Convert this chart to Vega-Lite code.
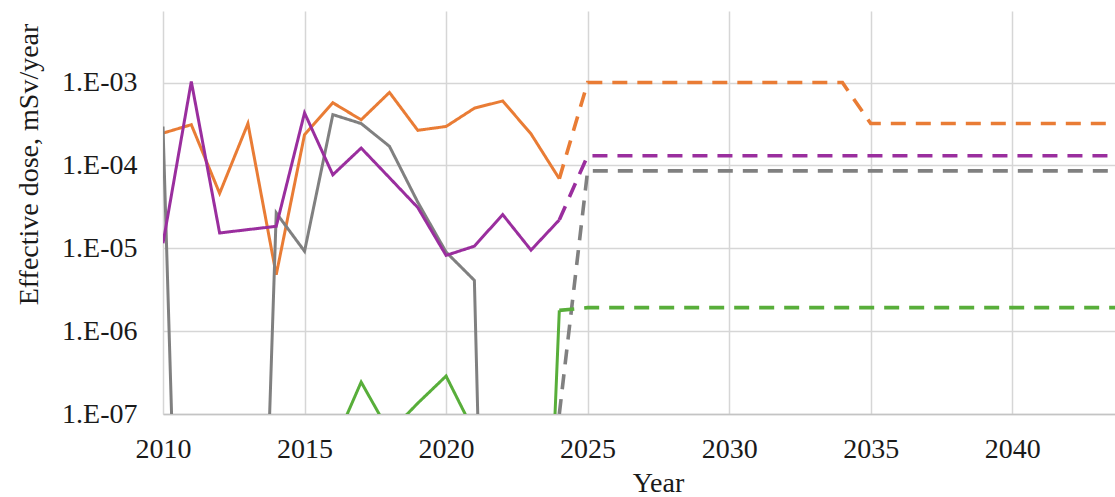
{
  "$schema": "https://vega.github.io/schema/vega-lite/v6.json",
  "width": 952,
  "height": 403,
  "autosize": {"type": "none"},
  "padding": {"left": 163, "top": 11, "right": 0, "bottom": 83},
  "background": "white",
  "config": {
    "view": {"stroke": null},
    "font": "Liberation Serif"
  },
  "data": {
    "values": [
      {"series": "A", "kind": "measured", "year": 2010, "dose": 2.45e-4},
      {"series": "A", "kind": "measured", "year": 2011, "dose": 3.1e-4},
      {"series": "A", "kind": "measured", "year": 2012, "dose": 4.6e-5},
      {"series": "A", "kind": "measured", "year": 2013, "dose": 3.2e-4},
      {"series": "A", "kind": "measured", "year": 2014, "dose": 4.8e-6},
      {"series": "A", "kind": "measured", "year": 2015, "dose": 2.35e-4},
      {"series": "A", "kind": "measured", "year": 2016, "dose": 5.7e-4},
      {"series": "A", "kind": "measured", "year": 2017, "dose": 3.55e-4},
      {"series": "A", "kind": "measured", "year": 2018, "dose": 7.6e-4},
      {"series": "A", "kind": "measured", "year": 2019, "dose": 2.65e-4},
      {"series": "A", "kind": "measured", "year": 2020, "dose": 2.95e-4},
      {"series": "A", "kind": "measured", "year": 2021, "dose": 4.9e-4},
      {"series": "A", "kind": "measured", "year": 2022, "dose": 6.0e-4},
      {"series": "A", "kind": "measured", "year": 2023, "dose": 2.4e-4},
      {"series": "A", "kind": "measured", "year": 2024, "dose": 6.9e-5},

      {"series": "C", "kind": "measured", "year": 2010, "dose": 2.95e-4},
      {"series": "C", "kind": "measured", "year": 2011, "dose": 1e-15},
      {"series": "C", "kind": "measured", "year": 2012, "dose": 1e-15},
      {"series": "C", "kind": "measured", "year": 2013, "dose": 1e-15},
      {"series": "C", "kind": "measured", "year": 2014, "dose": 2.67e-5},
      {"series": "C", "kind": "measured", "year": 2015, "dose": 9.2e-6},
      {"series": "C", "kind": "measured", "year": 2016, "dose": 4.1e-4},
      {"series": "C", "kind": "measured", "year": 2017, "dose": 3.2e-4},
      {"series": "C", "kind": "measured", "year": 2018, "dose": 1.7e-4},
      {"series": "C", "kind": "measured", "year": 2019, "dose": 3.6e-5},
      {"series": "C", "kind": "measured", "year": 2020, "dose": 9.0e-6},
      {"series": "C", "kind": "measured", "year": 2021, "dose": 4.1e-6},
      {"series": "C", "kind": "measured", "year": 2022, "dose": 1e-19},
      {"series": "C", "kind": "measured", "year": 2023, "dose": 1e-19},

      {"series": "D", "kind": "measured", "year": 2016, "dose": 4e-8},
      {"series": "D", "kind": "measured", "year": 2017, "dose": 2.43e-7},
      {"series": "D", "kind": "measured", "year": 2018, "dose": 6e-8},
      {"series": "D", "kind": "measured", "year": 2019, "dose": 1.35e-7},
      {"series": "D", "kind": "measured", "year": 2020, "dose": 2.87e-7},
      {"series": "D", "kind": "measured", "year": 2021, "dose": 6e-8},
      {"series": "D", "kind": "measured", "year": 2022, "dose": 1e-14},
      {"series": "D", "kind": "measured", "year": 2023, "dose": 1e-14},
      {"series": "D", "kind": "measured", "year": 2024, "dose": 1.78e-6},

      {"series": "B", "kind": "measured", "year": 2010, "dose": 1.15e-5},
      {"series": "B", "kind": "measured", "year": 2011, "dose": 1.03e-3},
      {"series": "B", "kind": "measured", "year": 2012, "dose": 1.53e-5},
      {"series": "B", "kind": "measured", "year": 2013, "dose": 1.68e-5},
      {"series": "B", "kind": "measured", "year": 2014, "dose": 1.84e-5},
      {"series": "B", "kind": "measured", "year": 2015, "dose": 4.3e-4},
      {"series": "B", "kind": "measured", "year": 2016, "dose": 7.7e-5},
      {"series": "B", "kind": "measured", "year": 2017, "dose": 1.62e-4},
      {"series": "B", "kind": "measured", "year": 2018, "dose": 7.1e-5},
      {"series": "B", "kind": "measured", "year": 2019, "dose": 3.1e-5},
      {"series": "B", "kind": "measured", "year": 2020, "dose": 8.2e-6},
      {"series": "B", "kind": "measured", "year": 2021, "dose": 1.06e-5},
      {"series": "B", "kind": "measured", "year": 2022, "dose": 2.55e-5},
      {"series": "B", "kind": "measured", "year": 2023, "dose": 9.5e-6},
      {"series": "B", "kind": "measured", "year": 2024, "dose": 2.2e-5},

      {"series": "A", "kind": "projected", "year": 2024, "dose": 6.9e-5},
      {"series": "A", "kind": "projected", "year": 2025, "dose": 1e-3},
      {"series": "A", "kind": "projected", "year": 2026, "dose": 1e-3},
      {"series": "A", "kind": "projected", "year": 2027, "dose": 1e-3},
      {"series": "A", "kind": "projected", "year": 2028, "dose": 1e-3},
      {"series": "A", "kind": "projected", "year": 2029, "dose": 1e-3},
      {"series": "A", "kind": "projected", "year": 2030, "dose": 1e-3},
      {"series": "A", "kind": "projected", "year": 2031, "dose": 1e-3},
      {"series": "A", "kind": "projected", "year": 2032, "dose": 1e-3},
      {"series": "A", "kind": "projected", "year": 2033, "dose": 1e-3},
      {"series": "A", "kind": "projected", "year": 2034, "dose": 1e-3},
      {"series": "A", "kind": "projected", "year": 2035, "dose": 3.2e-4},
      {"series": "A", "kind": "projected", "year": 2036, "dose": 3.2e-4},
      {"series": "A", "kind": "projected", "year": 2037, "dose": 3.2e-4},
      {"series": "A", "kind": "projected", "year": 2038, "dose": 3.2e-4},
      {"series": "A", "kind": "projected", "year": 2039, "dose": 3.2e-4},
      {"series": "A", "kind": "projected", "year": 2040, "dose": 3.2e-4},
      {"series": "A", "kind": "projected", "year": 2041, "dose": 3.2e-4},
      {"series": "A", "kind": "projected", "year": 2042, "dose": 3.2e-4},
      {"series": "A", "kind": "projected", "year": 2043, "dose": 3.2e-4},
      {"series": "A", "kind": "projected", "year": 2044, "dose": 3.2e-4},

      {"series": "C", "kind": "projected", "year": 2024, "dose": 1e-7},
      {"series": "C", "kind": "projected", "year": 2025, "dose": 8.6e-5},
      {"series": "C", "kind": "projected", "year": 2030, "dose": 8.6e-5},
      {"series": "C", "kind": "projected", "year": 2035, "dose": 8.6e-5},
      {"series": "C", "kind": "projected", "year": 2040, "dose": 8.6e-5},
      {"series": "C", "kind": "projected", "year": 2044, "dose": 8.6e-5},

      {"series": "D", "kind": "projected", "year": 2024, "dose": 1.78e-6},
      {"series": "D", "kind": "projected", "year": 2025, "dose": 1.92e-6},
      {"series": "D", "kind": "projected", "year": 2030, "dose": 1.92e-6},
      {"series": "D", "kind": "projected", "year": 2035, "dose": 1.92e-6},
      {"series": "D", "kind": "projected", "year": 2040, "dose": 1.92e-6},
      {"series": "D", "kind": "projected", "year": 2044, "dose": 1.92e-6},

      {"series": "B", "kind": "projected", "year": 2024, "dose": 2.2e-5},
      {"series": "B", "kind": "projected", "year": 2025, "dose": 1.31e-4},
      {"series": "B", "kind": "projected", "year": 2030, "dose": 1.31e-4},
      {"series": "B", "kind": "projected", "year": 2035, "dose": 1.31e-4},
      {"series": "B", "kind": "projected", "year": 2040, "dose": 1.31e-4},
      {"series": "B", "kind": "projected", "year": 2044, "dose": 1.31e-4}
    ]
  },
  "mark": {"type": "line", "clip": true, "strokeJoin": "miter"},
  "encoding": {
    "x": {
      "field": "year",
      "type": "quantitative",
      "scale": {"domain": [2010, 2043.63], "nice": false, "zero": false},
      "axis": {
        "title": "Year",
        "values": [2010, 2015, 2020, 2025, 2030, 2035, 2040],
        "format": "d",
        "grid": true,
        "gridColor": "#d6d6d6",
        "gridWidth": 1.5,
        "ticks": false,
        "tickSize": 0,
        "domain": true,
        "domainColor": "#c4c4c4",
        "domainWidth": 1.5,
        "labelFont": "Liberation Serif",
        "labelFontSize": 28,
        "labelColor": "#1a1a1a",
        "labelBaseline": "alphabetic",
        "labelPadding": 43,
        "labelFlush": false,
        "labelOverlap": false,
        "titleFont": "Liberation Serif",
        "titleFontSize": 28,
        "titleFontWeight": "normal",
        "titleColor": "#1a1a1a",
        "titleBaseline": "alphabetic",
        "titleX": 495,
        "titleY": 77
      }
    },
    "y": {
      "field": "dose",
      "type": "quantitative",
      "scale": {"type": "log", "domain": [1e-7, 7.3e-3], "nice": false},
      "axis": {
        "title": "Effective dose, mSv/year",
        "values": [1e-7, 1e-6, 1e-5, 1e-4, 1e-3],
        "labelExpr": "'1.E-0' + format(-round(log(datum.value)/LN10), 'd')",
        "grid": true,
        "gridColor": "#d6d6d6",
        "gridWidth": 1.5,
        "ticks": false,
        "tickSize": 0,
        "domain": false,
        "labelFont": "Liberation Serif",
        "labelFontSize": 28,
        "labelColor": "#1a1a1a",
        "labelPadding": 26,
        "labelOverlap": false,
        "labelFlush": false,
        "titleFont": "Liberation Serif",
        "titleFontSize": 28,
        "titleFontWeight": "normal",
        "titleColor": "#1a1a1a",
        "titleAngle": -90,
        "titleAlign": "center",
        "titleBaseline": "alphabetic",
        "titleX": -126,
        "titleY": 153
      }
    },
    "color": {
      "field": "series",
      "type": "nominal",
      "scale": {"domain": ["A", "B", "C", "D"], "range": ["#E97C35", "#9A2E9E", "#808080", "#58AE3A"]},
      "legend": null
    },
    "strokeDash": {
      "field": "kind",
      "type": "nominal",
      "scale": {"domain": ["measured", "projected"], "range": [[1, 0], [15, 10]]},
      "legend": null
    },
    "strokeWidth": {
      "field": "kind",
      "type": "nominal",
      "scale": {"domain": ["measured", "projected"], "range": [3, 3.6]},
      "legend": null
    },
    "detail": {"field": "kind"},
    "order": {"field": "year"}
  }
}
